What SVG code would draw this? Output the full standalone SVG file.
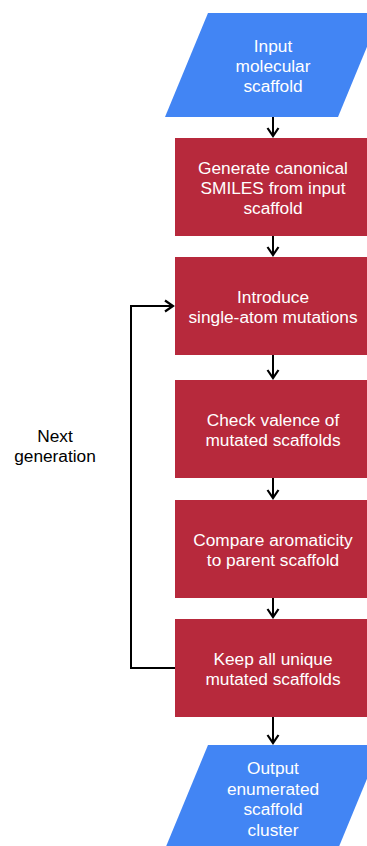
<svg xmlns="http://www.w3.org/2000/svg" width="367" height="846" viewBox="0 0 367 846">
<style>
.io{fill:#4285F4;}
.proc{fill:#B7293C;}
.t{font-family:"Liberation Sans",Arial,sans-serif;font-size:17.3px;fill:#ffffff;text-anchor:middle;}
.lbl{font-family:"Liberation Sans",Arial,sans-serif;font-size:17.3px;fill:#000000;text-anchor:middle;}
.c{fill:none;stroke:#000;stroke-width:2;}
</style>
<defs>
<marker id="ah" viewBox="0 0 12 14" refX="10" refY="7" markerWidth="12" markerHeight="14" markerUnits="userSpaceOnUse" orient="auto">
<path d="M2,1.5 L10,7 L2,12.5" fill="none" stroke="#000" stroke-width="2.2"/>
</marker>
</defs>
<rect width="367" height="846" fill="#fff"/>
<g id="connectors">
<line class="c" x1="273" y1="117" x2="273" y2="136" marker-end="url(#ah)"/>
<line class="c" x1="273" y1="236" x2="273" y2="255" marker-end="url(#ah)"/>
<line class="c" x1="273" y1="355" x2="273" y2="378" marker-end="url(#ah)"/>
<line class="c" x1="273" y1="478" x2="273" y2="498" marker-end="url(#ah)"/>
<line class="c" x1="273" y1="598" x2="273" y2="617" marker-end="url(#ah)"/>
<line class="c" x1="273" y1="717" x2="273" y2="743" marker-end="url(#ah)"/>
<path class="c" d="M175,668 L131,668 L131,306 L173,306" marker-end="url(#ah)"/>
</g>
<g id="input">
<polygon class="io" points="208,13 381,13 338,117 165,117"/>
<text class="t" x="273" y="52">Input</text>
<text class="t" x="273" y="72">molecular</text>
<text class="t" x="273" y="92">scaffold</text>
</g>
<g id="canon">
<rect class="proc" x="175" y="138" width="196" height="98"/>
<text class="t" x="273" y="174">Generate canonical</text>
<text class="t" x="273" y="194">SMILES from input</text>
<text class="t" x="273" y="214">scaffold</text>
</g>
<g id="mutate">
<rect class="proc" x="175" y="257" width="196" height="98"/>
<text class="t" x="273" y="303">Introduce</text>
<text class="t" x="273" y="323">single-atom mutations</text>
</g>
<g id="valence">
<rect class="proc" x="175" y="380" width="196" height="98"/>
<text class="t" x="273" y="426">Check valence of</text>
<text class="t" x="273" y="446">mutated scaffolds</text>
</g>
<g id="aromatic">
<rect class="proc" x="175" y="500" width="196" height="98"/>
<text class="t" x="273" y="546">Compare aromaticity</text>
<text class="t" x="273" y="566">to parent scaffold</text>
</g>
<g id="keep">
<rect class="proc" x="175" y="619" width="196" height="98"/>
<text class="t" x="273" y="665">Keep all unique</text>
<text class="t" x="273" y="685">mutated scaffolds</text>
</g>
<g id="output">
<polygon class="io" points="208,745 381,745 338,849 165,849"/>
<text class="t" x="273" y="774">Output</text>
<text class="t" x="273" y="795">enumerated</text>
<text class="t" x="273" y="815">scaffold</text>
<text class="t" x="273" y="836">cluster</text>
</g>
<g id="label">
<text class="lbl" x="55" y="442">Next</text>
<text class="lbl" x="55" y="462">generation</text>
</g>
</svg>
